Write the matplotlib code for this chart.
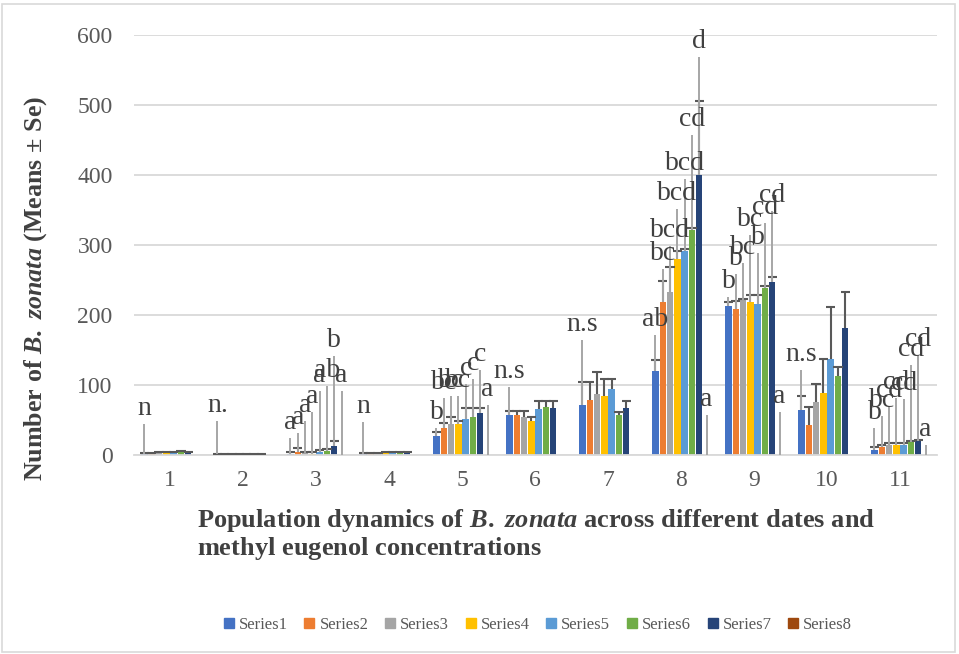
import matplotlib
matplotlib.use("Agg")
import matplotlib.pyplot as plt
from matplotlib.patches import Patch, Rectangle

plt.rcParams['font.family'] = ['Liberation Serif', 'DejaVu Serif']
plt.rcParams['mathtext.fontset'] = 'custom'
plt.rcParams['mathtext.rm'] = 'Liberation Serif:bold'
plt.rcParams['mathtext.it'] = 'Liberation Serif:bold:italic'
plt.rcParams['mathtext.bf'] = 'Liberation Serif:bold'

categories = ['1', '2', '3', '4', '5', '6', '7', '8', '9', '10', '11']
series_names = ['Series1', 'Series2', 'Series3', 'Series4',
                'Series5', 'Series6', 'Series7', 'Series8']
colors = ['#4472C4', '#ED7D31', '#A5A5A5', '#FFC000',
          '#5B9BD5', '#70AD47', '#264478', '#9E480E']

# mean per date (rows) and series (columns)
means = [
    [2, 2, 3, 3, 3, 5, 4, 0],
    [1, 1, 1, 1, 1, 1, 1, 0],
    [2, 5, 3, 2, 5, 6, 13, 0],
    [2, 2, 2, 3, 3, 3, 3, 0],
    [27, 38, 45, 45, 51, 54, 60, 0],
    [57, 57, 54, 49, 66, 68, 67, 0],
    [71, 79, 87, 84, 94, 57, 67, 0],
    [120, 218, 233, 280, 291, 321, 400, 0],
    [213, 208, 221, 218, 216, 239, 247, 0],
    [64, 43, 76, 88, 137, 113, 181, 0],
    [7, 11, 14, 14, 14, 18, 20, 0],
]
errors = [
    [1, 1, 1, 1, 1, 1, 1, 0],
    [0.5, 0.5, 0.5, 0.5, 0.5, 0.5, 0.5, 0],
    [3, 5, 2, 2, 2, 2, 7, 0],
    [1, 1, 1, 1, 1, 1, 1, 0],
    [6, 8, 10, 3, 16, 13, 7, 0],
    [6, 6, 9, 6, 11, 9, 10, 0],
    [34, 26, 32, 24, 14, 4, 10, 0],
    [16, 30, 36, 12, 3, 3, 105, 0],
    [6, 12, 2, 10, 12, 3, 7, 0],
    [21, 26, 25, 49, 75, 13, 52, 0],
    [4, 3, 3, 3, 3, 2, 2, 0],
]
letters = [
    ['n', '', '', '', '', '', '', ''],
    ['n.', '', '', '', '', '', '', ''],
    ['a', 'a', 'a', 'a', 'a', 'ab', 'b', 'a'],
    ['n', '', '', '', '', '', '', ''],
    ['b', 'bc', 'bc', 'bc', 'c', 'c', 'c', 'a'],
    ['n.s', '', '', '', '', '', '', ''],
    ['n.s', '', '', '', '', '', '', ''],
    ['ab', 'bc', 'bcd', 'bcd', 'bcd', 'cd', 'd', 'a'],
    ['b', 'b', 'bc', 'bc', 'b', 'cd', 'cd', 'a'],
    ['n.s', '', '', '', '', '', '', ''],
    ['b', 'bc', 'cd', 'cd', 'cd', 'cd', 'cd', 'a'],
]
letter_y = [
    [67, 0, 0, 0, 0, 0, 0, 0],
    [71, 0, 0, 0, 0, 0, 0, 0],
    [46, 53, 71, 84, 114, 121, 164, 114],
    [69, 0, 0, 0, 0, 0, 0, 0],
    [61, 103, 107, 107, 124, 131, 143, 93],
    [119, 0, 0, 0, 0, 0, 0, 0],
    [186, 0, 0, 0, 0, 0, 0, 0],
    [193, 288, 321, 374, 417, 479, 590, 79],
    [248, 281, 297, 336, 310, 353, 371, 83],
    [143, 0, 0, 0, 0, 0, 0, 0],
    [61, 78, 92, 104, 102, 150, 165, 37],
]

fig = plt.figure(figsize=(9.59, 6.54), dpi=100)
ax = fig.add_axes([133.5 / 959, 1 - 455 / 654, 803 / 959, 420 / 654])

step = 0.1
width = 0.088
for j in range(8):
    xs = [i + 1 + (j - 3.5) * step for i in range(len(categories))]
    hs = [row[j] for row in means]
    ax.bar(xs, hs, width=width, color=colors[j], zorder=2)

for i in range(len(categories)):
    for j in range(8):
        x = i + 1 + (j - 3.5) * step
        m = means[i][j]
        e = errors[i][j]
        if e > 0:
            ax.vlines(x, m, m + e, color='#595959', lw=1.5, zorder=3)
            ax.hlines(m + e, x - 0.065, x + 0.065, color='#595959', lw=1.5, zorder=3)
        if letters[i][j]:
            ly = letter_y[i][j]
            top = ly - 22
            if top > m + 2:
                ax.vlines(x, m, top, color='#A6A6A6', lw=1.4, zorder=4)
            ax.text(x, ly, letters[i][j], ha='center', va='center',
                    fontsize=20, color='#404040', zorder=5)

ax.set_xlim(0.5, 11.5)
ax.set_ylim(0, 600)
ax.set_yticks(range(0, 601, 100))
ax.set_xticks(range(1, 12))
ax.set_xticklabels(categories)
ax.grid(axis='y', color='#D9D9D9', lw=1.3, zorder=0)
ax.set_axisbelow(True)
for s in ['top', 'right', 'left']:
    ax.spines[s].set_visible(False)
ax.spines['bottom'].set_color('#D9D9D9')
ax.spines['bottom'].set_linewidth(1.3)
ax.tick_params(axis='both', length=0, labelsize=17, colors='#595959')
ax.tick_params(axis='y', pad=15)
ax.tick_params(axis='x', pad=11)

fig.text(36 / 959, 1 - 288 / 654,
         r'$\mathrm{Number\ of\ }\mathit{B.\ zonata}\mathrm{\ (Means\ ±\ Se)}$',
         rotation=90, ha='center', va='center', fontsize=18.7, color='#404040')
fig.text(197 / 959, 1 - 521 / 654,
         r'$\mathrm{Population\ dynamics\ of\ }\mathit{B.\ zonata}\mathrm{\ across\ different\ dates\ and}$',
         ha='left', va='center', fontsize=19, color='#404040')
fig.text(197 / 959, 1 - 548 / 654,
         r'$\mathrm{methyl\ eugenol\ concentrations}$',
         ha='left', va='center', fontsize=19, color='#404040')

handles = [Patch(color=c, label=n) for c, n in zip(colors, series_names)]
fig.legend(handles=handles, loc='center', ncol=8,
           bbox_to_anchor=(538 / 959, 1 - 625 / 654), frameon=False,
           fontsize=12, handlelength=0.6, handleheight=0.6,
           handletextpad=0.3, columnspacing=1.0, labelcolor='#595959')

fig.patches.append(Rectangle((2 / 959, 2 / 654), 953 / 959, 648 / 654,
                             transform=fig.transFigure, fill=False,
                             edgecolor='#D9D9D9', lw=1.2))

fig.savefig('out.png', dpi=100)
